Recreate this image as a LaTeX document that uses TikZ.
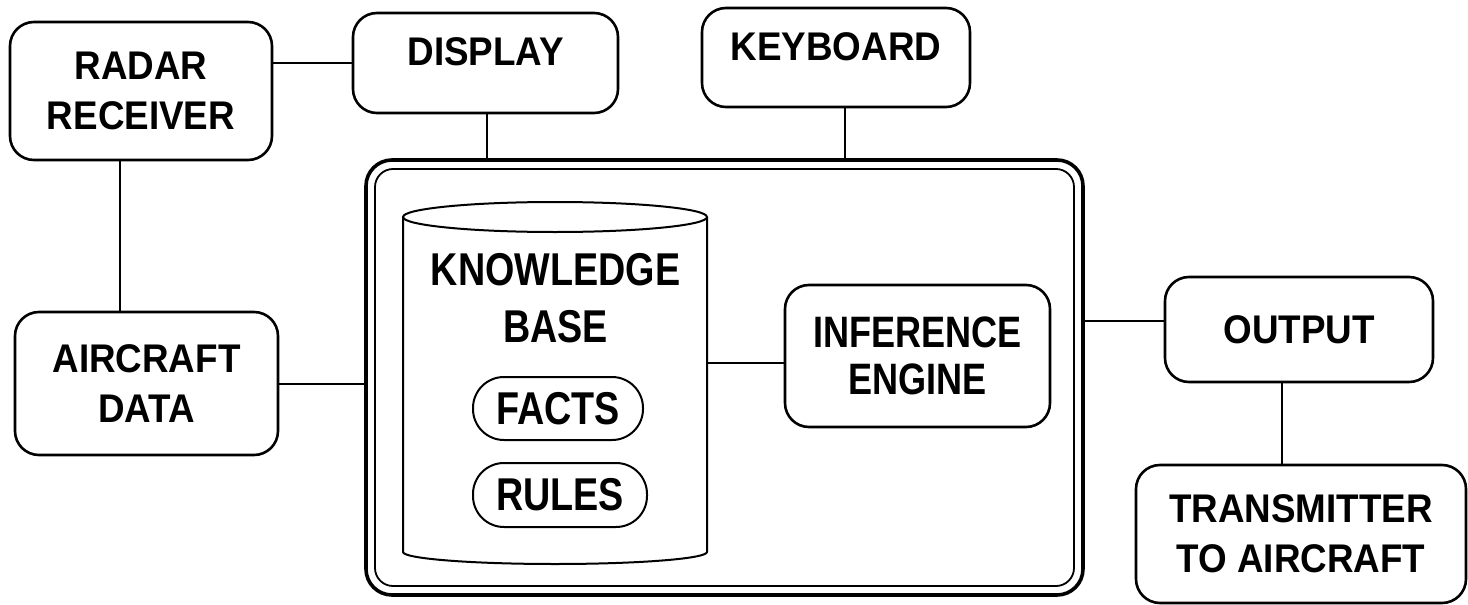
\documentclass[tikz,border=0pt]{standalone}
\usepackage{fontspec}
\newfontfamily\outf{Liberation Sans}[FakeStretch=0.92]
\newfontfamily\innf{Liberation Sans}[FakeStretch=0.82]
\tikzset{
  box/.style={draw, line width=2.6pt, rounded corners=24pt, inner sep=0pt, align=center,
    font=\outf\bfseries\fontsize{40}{50}\selectfont},
  pill/.style={draw, line width=2pt, rounded corners=31pt, inner sep=0pt,
    font=\innf\bfseries\fontsize{46}{57}\selectfont},
  link/.style={line width=2pt},
}
\begin{document}
\begin{tikzpicture}[x=1pt,y=-1pt]
\useasboundingbox (0,0) rectangle (1468,605);
% outer boxes
\node[box, minimum width=262pt, minimum height=138pt] (radar) at (141,91) {RADAR\\RECEIVER};
\node[box, minimum width=265pt, text height=52pt, text depth=48pt] (display) at (485.5,63) {DISPLAY};
\node[box, minimum width=268pt, text height=52pt, text depth=47pt] (keyboard) at (836,57.5) {KEYBOARD};
\node[box, minimum width=263pt, minimum height=143pt] (aircraft) at (146.5,383.5) {AIRCRAFT\\DATA};
\node[box, minimum width=268pt, minimum height=105pt] (output) at (1299,329.5) {OUTPUT};
\node[box, minimum width=330pt, minimum height=138pt] (transmitter) at (1301,534) {TRANSMITTER\\TO AIRCRAFT};
% main system box (double border)
\node[draw, line width=3.6pt, rounded corners=26pt, minimum width=717pt, minimum height=435pt] (mainout) at (724.5,377.5) {};
\node[draw, line width=1.8pt, rounded corners=18pt, minimum width=699pt, minimum height=417pt] (mainin) at (724.5,377.5) {};
% knowledge base cylinder
\draw[line width=2pt] (555,217) ellipse [x radius=152pt, y radius=15pt];
\draw[line width=2pt] (403,217) -- (403,552)
  .. controls (403,558.6) and (471,564) .. (555,564)
  .. controls (639,564) and (707,558.6) .. (707,552) -- (707,217);
\coordinate (kbR) at (707,363);
\node[align=center, inner sep=0pt, font=\innf\bfseries\fontsize{46}{57}\selectfont] (kb) at (555.5,298) {KNOWLEDGE\\BASE};
\node[pill, minimum width=170pt, minimum height=63pt] (facts) at (558,408.5) {FACTS};
\node[pill, minimum width=174pt, minimum height=64pt] (rules) at (560,495) {RULES};
% inference engine
\node[box, minimum width=265pt, minimum height=142pt, font=\innf\bfseries\fontsize{44}{47}\selectfont] (ie) at (917.5,356) {INFERENCE\\ENGINE};
% connectors
\draw[link] (radar.east |- display.west) -- (display.west);
\draw[link] ([xshift=1.5pt]display.south) -- ([xshift=1.5pt]display.south |- mainout.north);
\draw[link] ([xshift=9pt]keyboard.south) -- ([xshift=9pt]keyboard.south |- mainout.north);
\draw[link] ([xshift=-21pt]radar.south) -- ([xshift=-21pt]radar.south |- aircraft.north);
\draw[link] (aircraft.east) -- (aircraft.east -| mainout.west);
\draw[link] (kbR) -- (kbR -| ie.west);
\draw[link] ([yshift=8.5pt]output.west -| mainout.east) -- ([yshift=8.5pt]output.west);
\draw[link] ([xshift=-17pt]output.south) -- ([xshift=-17pt]output.south |- transmitter.north);
\end{tikzpicture}
\end{document}
